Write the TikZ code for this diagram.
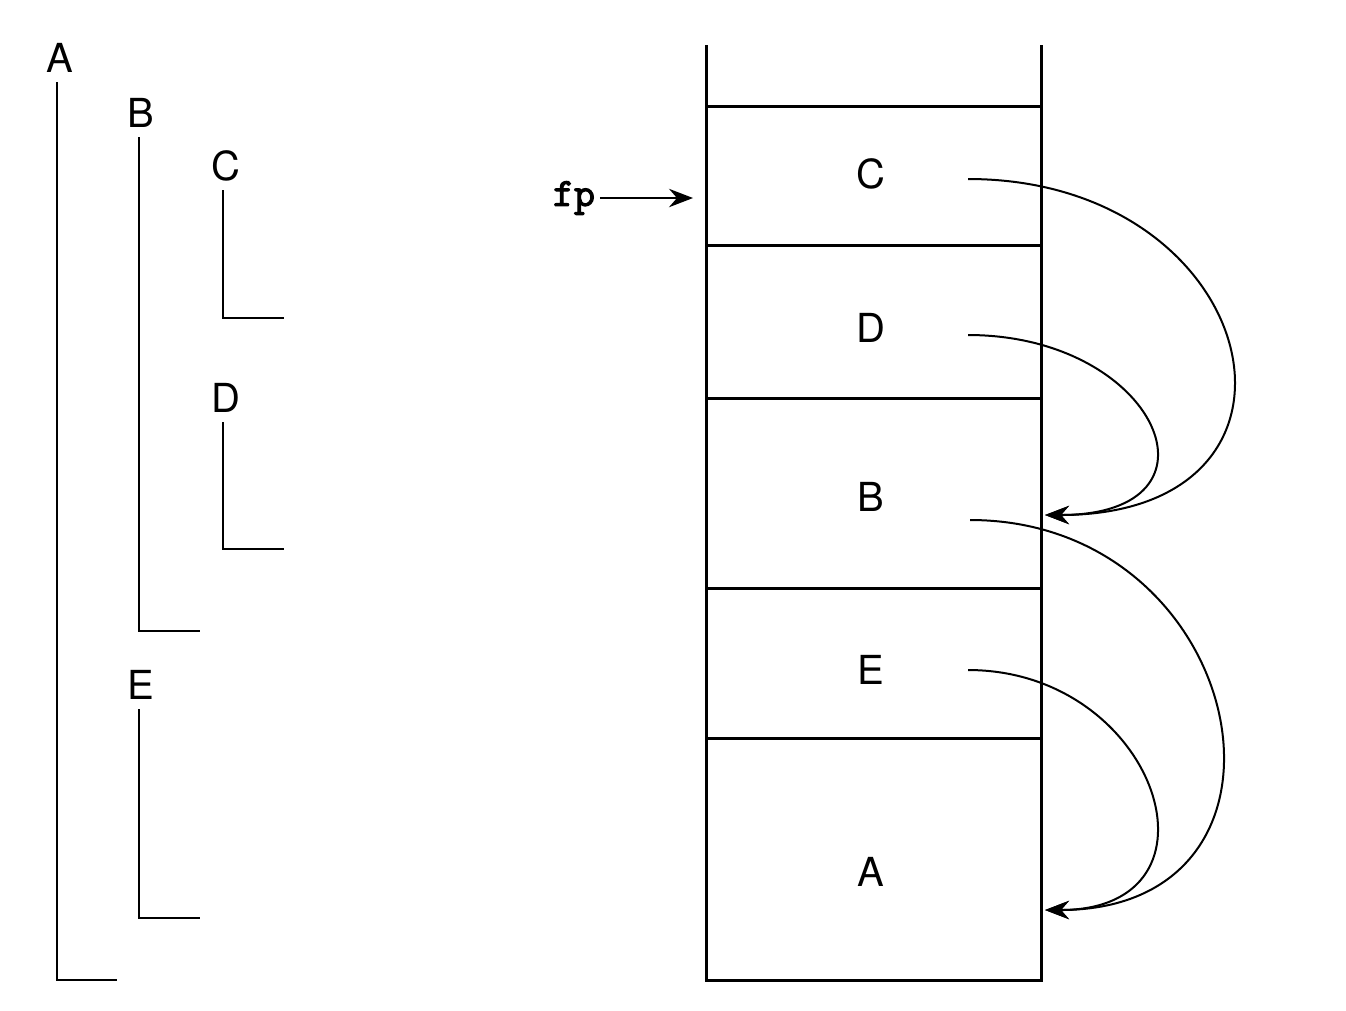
\documentclass[tikz,border=0pt]{standalone}
\usepackage{fontspec}
\setmainfont{TeX Gyre Heros}
\newfontfamily\fpfont{Latin Modern Mono}[FakeBold=2.5]
\usetikzlibrary{arrows.meta}
\tikzset{>={Stealth[length=6pt,width=4.6pt,inset=2pt]}}
\tikzset{frame/.style={line width=0.75pt},
  tree/.style={line width=0.5pt},
  link/.style={->, line width=0.5pt}}

\begin{document}
\begin{tikzpicture}[x=0.25pt,y=-0.25pt]
  \useasboundingbox (0,0) rectangle (1346,1010);

  % call tree
  \node (tA) at (60,58) {A};
  \node (tB) at (141,113) {B};
  \node (tC) at (226,166) {C};
  \node (tD) at (226,398) {D};
  \node (tE) at (141,685) {E};
  \draw[tree] (57,82) -- (57,980) -- (117,980);
  \draw[tree] (139,137) -- (139,631) -- (200,631);
  \draw[tree] (223,190) -- (223,318) -- (284,318);
  \draw[tree] (223,422) -- (223,549) -- (284,549);
  \draw[tree] (139,709) -- (139,918) -- (200,918);

  % stack
  \draw[frame] (706,45) -- (706,980) -- (1041,980) -- (1041,45);
  \foreach \y in {106,245,398,588,738}
    \draw[frame] (706,\y) -- (1041,\y);

  \node (sC) at (871,174) {C};
  \node (sD) at (871,328) {D};
  \node (sB) at (871,497) {B};
  \node (sE) at (871,670) {E};
  \node (sA) at (871,872) {A};

  \node[inner sep=1pt] (fp) at (574,198) {\fpfont fp};
  \draw[link] (fp.east) -- (fp.east -| 693,0);

  % links to parent frames
  \coordinate (outC) at (968,179);
  \coordinate (outD) at (968,335);
  \coordinate (outB) at (970,520);
  \coordinate (outE) at (968,670);
  \coordinate (inB) at (1045,515);
  \coordinate (inA) at (1045,910);
  \draw[link] (outC) .. controls +(296,0) and +(296,0) .. (inB);
  \draw[link] (outD) .. controls +(190,0) and +(190,0) .. (inB);
  \draw[link] (outB) .. controls +(280,0) and +(280,0) .. (inA);
  \draw[link] (outE) .. controls +(190,0) and +(190,0) .. (inA);
\end{tikzpicture}
\end{document}
